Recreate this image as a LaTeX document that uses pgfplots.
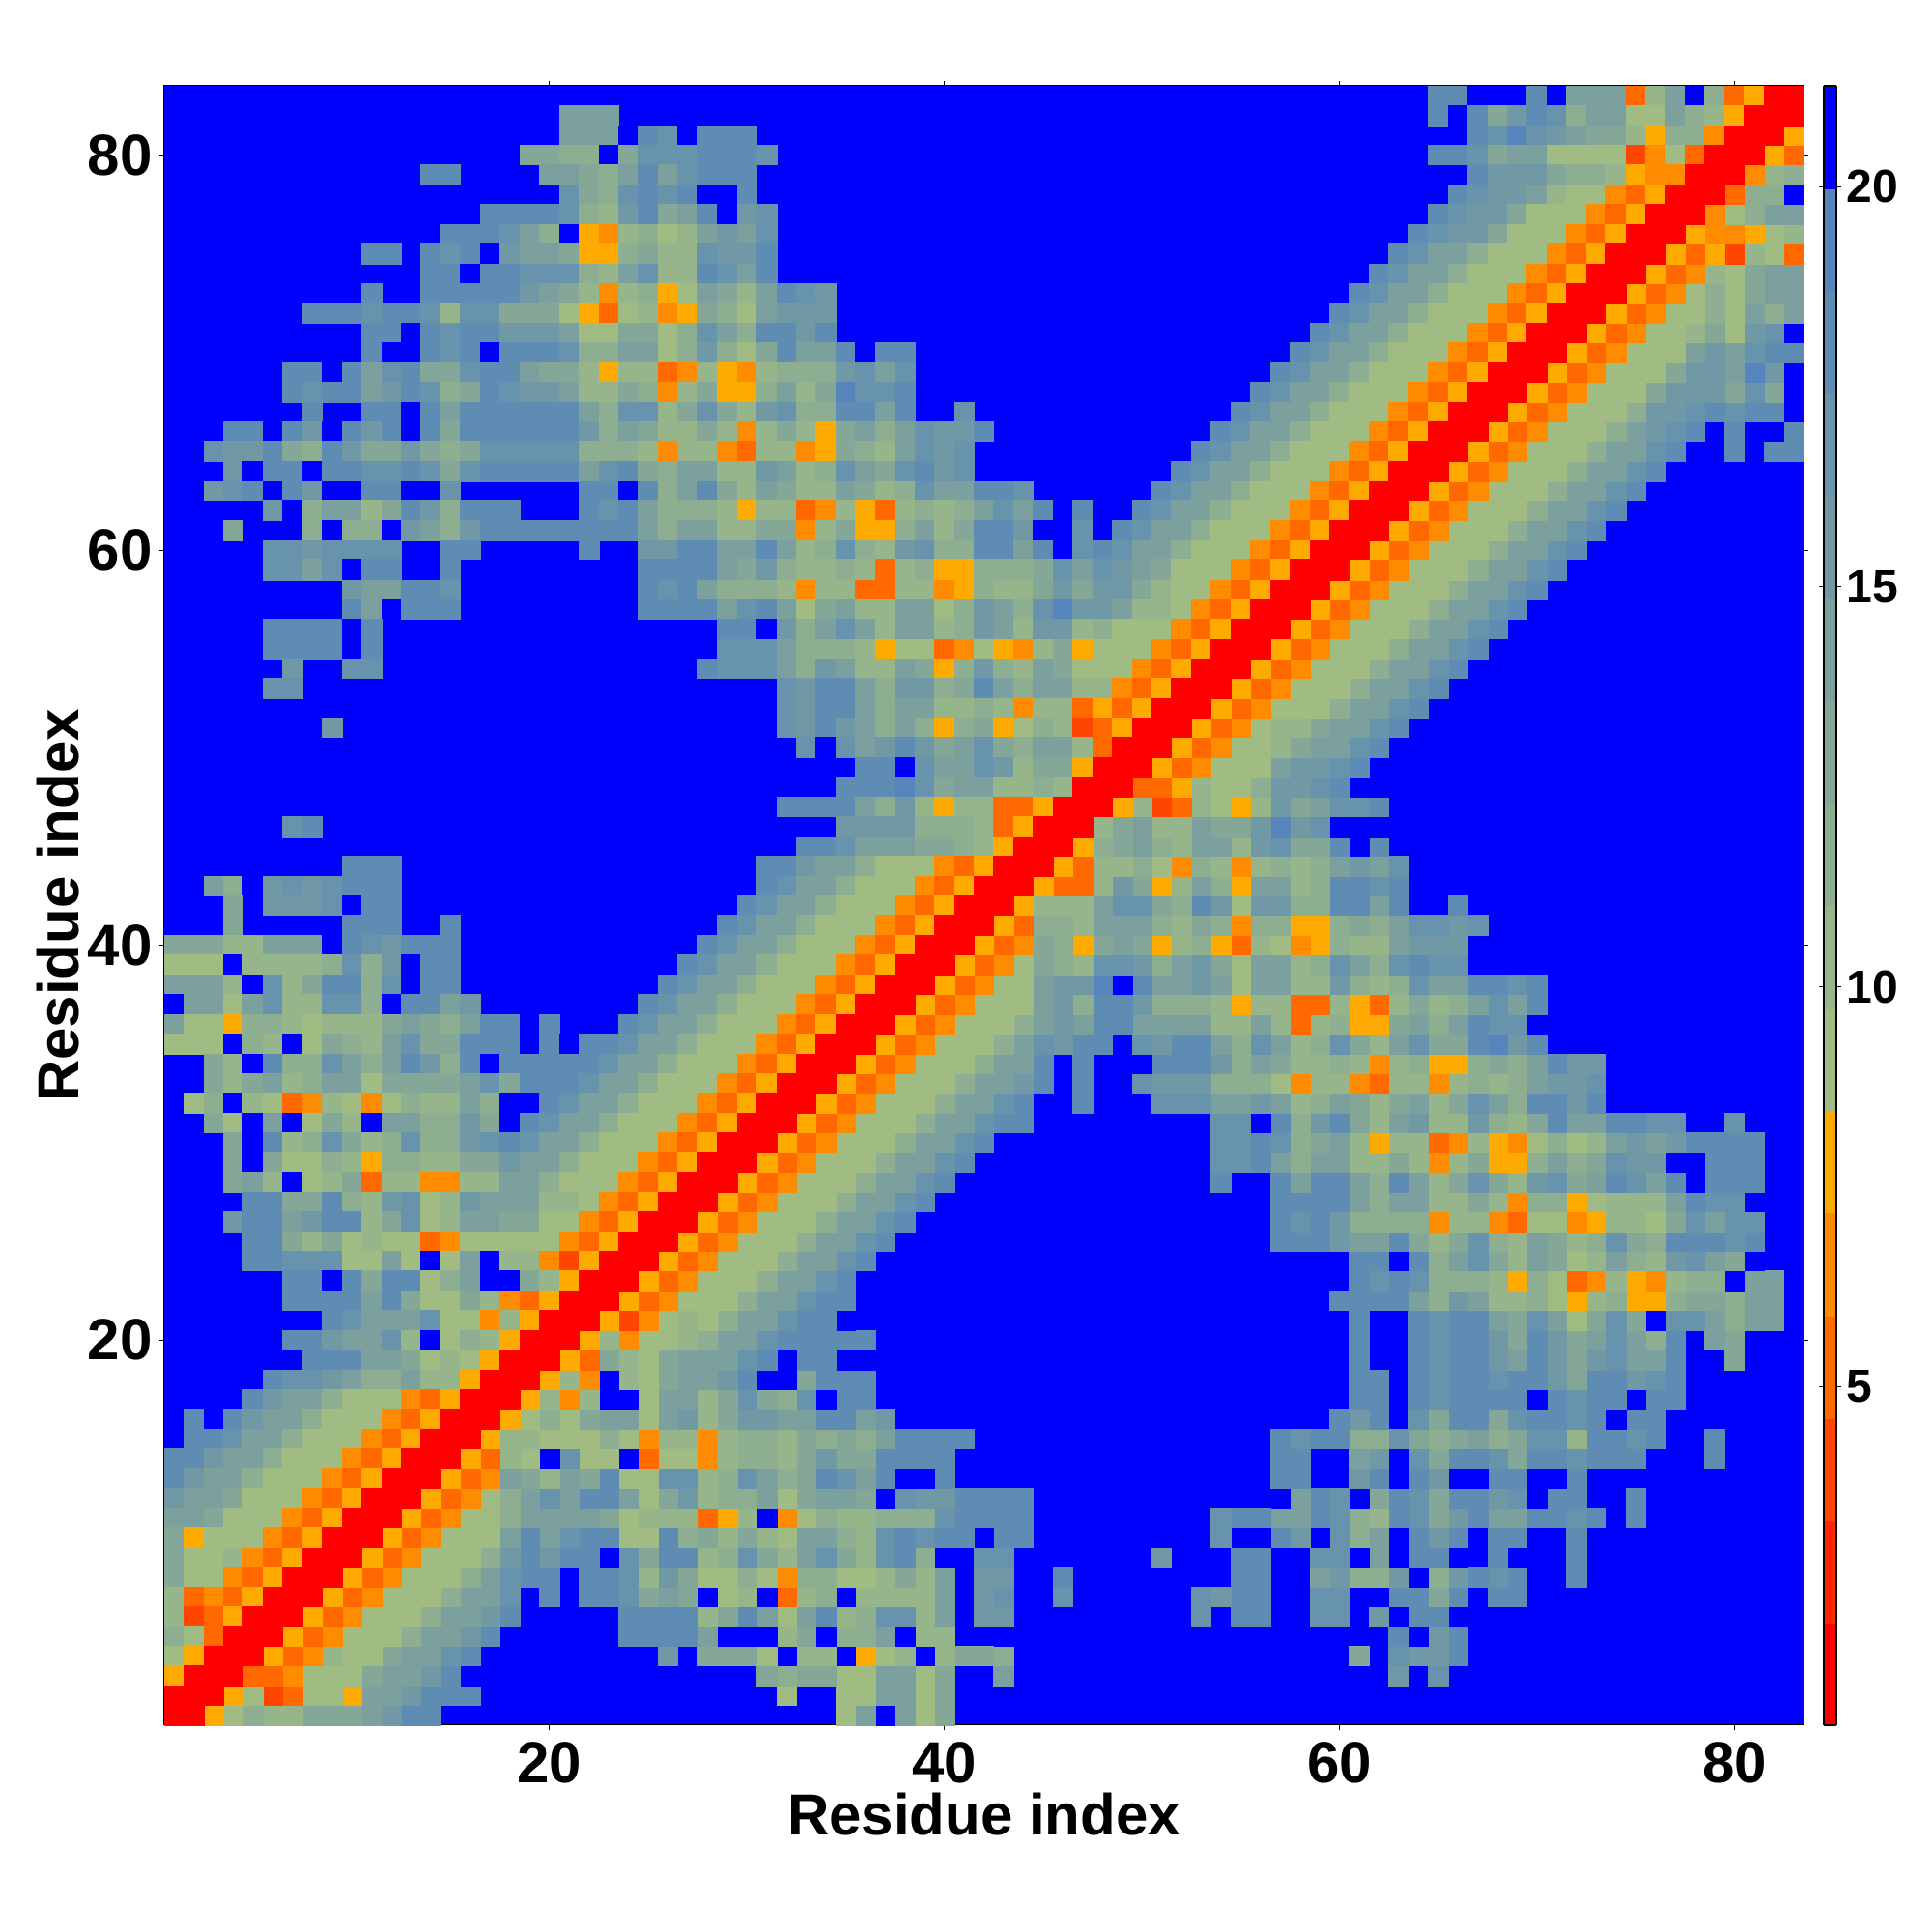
\documentclass[border=0pt]{standalone}
\usepackage{fontspec}
\setmainfont{Liberation Sans}
\usepackage{pgfplots}
\pgfplotsset{compat=1.18}
\pgfplotsset{
 colormap={contact}{
  rgb255=(255,0,0) rgb255=(255,36,0) rgb255=(255,70,0) rgb255=(255,105,0)
  rgb255=(255,140,0) rgb255=(255,170,0) rgb255=(161,188,131) rgb255=(151,181,138)
  rgb255=(142,174,145) rgb255=(132,167,152) rgb255=(123,160,158) rgb255=(113,153,165)
  rgb255=(104,147,172) rgb255=(94,140,179) rgb255=(85,133,186) rgb255=(0,0,255)},
 cell/.style={scatter,only marks,mark=square*,mark size=2.5557pt,scatter src=explicit,
  mark options={line width=0.15pt},
  scatter/use mapped color={draw=mapped color,fill=mapped color},forget plot},
}
% the map is symmetric: one row of the upper left half is drawn with its mirror image
\newcommand\Row[3]{%
 \gdef\cells{}%
 \foreach \v [count=\c from #2] in {#3}{\xdef\cells{\cells (\c,#1) [\v] (#1,\c) [\v] }}%
 \edef\doit{\noexpand\addplot[cell] coordinates {\cells};}\doit
}
\begin{document}
\begin{tikzpicture}
\useasboundingbox (-42.5pt,-53.5pt) rectangle (457.5pt,446.5pt);
\begin{axis}[
 at={(0,0)},anchor=south west,scale only axis,width=424.25pt,height=424.25pt,
 xmin=0.5,xmax=83.5,ymin=0.5,ymax=83.5,
 xtick={20,40,60,80},ytick={20,40,60,80},
 tick align=outside,major tick length=1.25pt,tick style={line width=0.25pt,black},
 axis line style={line width=0.25pt,black},
 axis background/.style={fill=blue},
 /pgf/number format/assume math mode=true,
 tick label style={font=\bfseries\fontsize{15}{15}\selectfont,inner sep=0pt},
 xticklabel style={yshift=-3pt},yticklabel style={xshift=-1.7pt},
 xlabel={Residue index},ylabel={Residue index},
 every axis x label/.style={at={(axis description cs:0.5,0)},anchor=center,yshift=-23pt,
  font=\bfseries\fontsize{15}{15}\selectfont},
 every axis y label/.style={at={(axis description cs:0,0.5)},anchor=center,rotate=90,yshift=27.5pt,
  font=\bfseries\fontsize{15}{15}\selectfont},
 colormap name=contact,colormap access=piecewise constant,
 point meta min=0.77,point meta max=21.26,
 colorbar sampled,
 colorbar shift/.style={xshift=3.9pt},
 colorbar style={samples=17,width=3.25pt,ytick={5,10,15,20},
  tick align=outside,major tick length=1.25pt,
  yticklabel style={font=\bfseries\fontsize{12}{12}\selectfont,inner sep=0pt,xshift=1.2pt},
  /pgf/number format/assume math mode=true},
]
\Row{83}{65}{18,18,21,21,21,18,21,14,14,14,5,10,14,21,12,5,8,1,1}
\Row{82}{21}{14,14,14}
\Row{82}{65}{18,21,18,13,16,18,17,12,14,14,9,9,14,12,10,8,1,1}
\Row{81}{21}{14,14,14,21,18,17,21,18,18,18}
\Row{81}{67}{18,17,19,17,16,14,13,13,10,8,12,12,6,1,1}
\Row{80}{19}{13,13,12,12,21,13,17,17,17,18,18,18,17}
\Row{80}{65}{18,18,17,13,14,14,9,9,9,9,4,6,9,5,1,1}
\Row{79}{14}{18,18}
\Row{79}{20}{14,14,13,12,14,18,14,17,18,18,18}
\Row{79}{67}{18,16,16,16,13,12,12,10,8,6,6,1,1}
\Row{78}{21}{17,13,12,17,18,17,18,21,21,18}
\Row{78}{66}{18,17,16,16,14,10,9,9,6,5,8,1,1}
\Row{77}{17}{18,18,18,18,17,12,10,16,18,13,14,18,21,16,17}
\Row{77}{65}{18,17,16,16,13,9,9,9,6,5,8,1,1}
\Row{76}{15}{18,18,18,17,14,12,21,8,6,10,12,9,10,14,16,14,17}
\Row{76}{64}{18,17,16,16,13,9,9,9,6,5,8,1,1}
\Row{75}{11}{18,18}
\Row{75}{14}{18,17,18,21,16,14,14,13,8,8,12,13,10,10,17,16,16,18}
\Row{75}{63}{18,17,14,14,12,9,9,9,6,5,8,1,1}
\Row{74}{14}{18,18,21,18,18,17,17,17,12,10,14,17,10,10,18,17,14,18}
\Row{74}{62}{18,17,14,14,12,9,9,9,6,5,8,1,1}
\Row{73}{11}{18}
\Row{73}{14}{18,18,18,18,18,16,14,13,10,6,10,12,8,9,14,13,10,14,18,17,16}
\Row{73}{61}{18,17,14,14,12,9,9,9,6,5,8,1,1}
\Row{72}{8}{18,18,18,17,18,18,17,10,17,17,13,13,13,9,8,5,9,10,6,8,13,12,9,14,16,16,16}
\Row{72}{60}{18,17,14,14,12,9,9,9,6,5,8,1,1}
\Row{71}{11}{18,18,21,18,17,18,18,16,16,16,14,9,9,13,13,9,12,17,14,12,18,18,16,18}
\Row{71}{59}{18,17,14,14,12,9,9,9,6,5,8,1,1}
\Row{70}{11}{18,21,21,18,17,18,21,18,18,18,17,12,12,14,14,9,12,16,12,9,13,18,14,14,18,21,18,18}
\Row{70}{58}{18,17,14,14,12,9,9,9,6,5,8,1,1}
\Row{69}{7}{18,18,21,18,14,17,18,13,13,17,18,18,14,13,13,10,8,10,10,5,6,10,8,6,10,12,12,12,16,17,14,17}
\Row{69}{57}{18,17,14,14,12,9,9,9,6,5,8,1,1}
\Row{68}{7}{18,17,18,18,14,16,18,17,12,13,18,17,16,16,14,10,10,13,12,6,10,13,8,8,12,14,10,13,19,17,17,18}
\Row{68}{56}{18,17,14,14,12,9,9,9,6,5,8,1,1}
\Row{67}{8}{18}
\Row{67}{11}{18,18,21,18,14,18,18,18,18,18,18,14,12,17,17,10,13,17,13,10,16,17,12,12,18,18,14,18}
\Row{67}{41}{17}
\Row{67}{55}{18,17,14,14,12,9,9,9,6,5,8,1,1}
\Row{66}{4}{18,18,21,18,16,21,18,16,18,21,18,13,18,18,18,18,18,18,16,12,14,13,10,10,13,10,6,10,13,10,8,13,14,12,14,17,16,16,18}
\Row{66}{54}{18,17,14,14,12,9,9,9,6,5,8,1,1}
\Row{65}{3}{17,16,16,18,13,12,18,16,13,13,16,13,12,13,17,17,17,17,17,12,12,12,10,6,10,10,6,5,10,10,6,8,13,12,10,14,17,16,17}
\Row{65}{53}{18,17,14,14,12,9,9,9,6,5,8,1,1}
\Row{64}{4}{16,21,18,18,21,18,18,17,17,18,17,13,17,18,18,18,18,18,14,17,18,13,12,14,14,10,10,16,14,10,12,17,14,13,17,18,16,17}
\Row{64}{52}{18,17,14,14,12,9,9,9,6,5,8,1,1}
\Row{63}{3}{16,17,18,21,18,16,21,21,18,18,21,21,17}
\Row{63}{22}{18,18,21,18,12,14,18,13,10,14,13,10,10,14,13,10,12,17,14,14,18,18,17}
\Row{63}{51}{18,17,14,14,12,9,9,9,6,5,8,1,1}
\Row{62}{6}{16,21,12,14,14,10,13,18,16,12,18,18,18}
\Row{62}{22}{18,17,18,14,12,12,12,10,8,10,10,5,6,10,8,5,10,12,10,12,14,17,14,18,21,18,21,21}
\Row{62}{50}{18,17,14,14,12,9,9,9,6,5,8,1,1}
\Row{61}{4}{13}
\Row{61}{8}{12,21,12,12,21,16,14,12,16,18,18,18,18,18,18,18,18,14,12,14,14,10,10,13,13,6,10,13,8,8,12,14,10,13,18,18,16,21,21,17,21}
\Row{61}{49}{18,17,14,14,12,9,9,9,6,5,8,1,1}
\Row{60}{6}{17,17,16,17,17,17,17}
\Row{60}{15}{18,18}
\Row{60}{22}{18}
\Row{60}{25}{16,16,18,18,14,14,18,14,10,12,17,12,10,16,17,12,12,18,18,14,18,21,17}
\Row{60}{48}{18,17,14,14,12,9,9,9,6,5,8,1,1}
\Row{59}{6}{17,17,14,17,21,18,18}
\Row{59}{15}{18}
\Row{59}{25}{18,18,18,18,14,13,16,12,10,10,12,10,5,10,12,8,8,12,12,12,13,17,14,17,16,14,13,9,9,9,6,5,8,1,1}
\Row{58}{10}{16,14,14,18,18,17}
\Row{58}{25}{18,17,18,14,12,12,12,10,6,10,10,5,5,10,10,6,8,12,10,10,13,16,13,16,16,13,10,9,9,6,5,8,1,1}
\Row{57}{10}{18,14,21,18,18,18}
\Row{57}{25}{18,18,18,18,14,17,18,14,9,13,14,10,10,14,14,9,12,16,14,12,17,19,16,16,14,10,10,9,6,5,8,1,1}
\Row{56}{6}{18,18,18,18,21,18}
\Row{56}{29}{18,18,21,16,12,14,17,14,10,14,14,10,12,16,14,10,16,16,10,12,9,9,9,6,5,8,1,1}
\Row{55}{6}{18,18,18,18,21,18}
\Row{55}{29}{17,17,17,14,12,12,12,10,8,9,9,5,6,9,8,6,10,13,8,9,9,9,6,5,8,1,1}
\Row{54}{7}{16}
\Row{54}{10}{17,17}
\Row{54}{28}{18,17,17,17,14,12,16,14,10,10,14,13,8,12,16,12,10,14,13,9,9,9,6,5,8,1,1}
\Row{53}{6}{17,17}
\Row{53}{32}{17,16,18,18,14,12,16,16,12,13,18,14,12,14,14,10,10,6,5,8,1,1}
\Row{52}{32}{17,16,18,18,14,12,14,14,10,10,12,10,6,10,10,5,8,5,8,1,1}
\Row{51}{9}{16}
\Row{51}{32}{17,16,18,16,14,12,14,12,8,12,13,8,9,12,10,4,5,8,1,1}
\Row{50}{33}{17,21,17,14,16,18,16,13,14,17,13,12,14,14,10,5,1,1}
\Row{49}{36}{18,18,21,17,14,14,17,16,10,13,13,8,1,1}
\Row{48}{35}{18,18,18,19,17,13,14,14,10,10,12,10,1,1}
\Row{47}{32}{18,18,18,18,14,12,16,10,8,10,10,5,5,8,1,1}
\Row{46}{7}{17,18}
\Row{46}{35}{16,16,16,16,12,12,12,10,5,8,1,1}
\Row{45}{33}{18,18,17,14,14,14,13,13,12,10,8,1,1}
\Row{44}{10}{18,18,18}
\Row{44}{31}{18,18,16,14,14,12,9,9,9,6,5,8,1,1}
\Row{43}{3}{14,12,21,16,17,16,17,18,18,18}
\Row{43}{31}{18,17,14,14,12,9,9,9,6,5,8,1,1}
\Row{42}{4}{13}
\Row{42}{6}{16,16,16,17,21,18,18}
\Row{42}{30}{18,17,14,14,12,9,9,9,6,5,8,1,1}
\Row{41}{4}{13}
\Row{41}{10}{18,18,18}
\Row{41}{15}{18}
\Row{41}{29}{18,17,14,14,12,9,9,9,6,5,8,1,1}
\Row{40}{1}{13,13,13,10,10,14,14,14,21,18,17,16,18,18,18}
\Row{40}{28}{18,17,14,14,12,9,9,9,6,5,8,1,1}
\Row{39}{1}{9,9,9,21,10,10,10,10,12,17,12,16,21,18,18}
\Row{39}{27}{18,17,14,14,12,9,9,9,6,5,8,1,1}
\Row{38}{1}{14,14,14,10,21,17,10,13,18,18,12,17,21,18,18}
\Row{38}{26}{18,17,14,14,12,9,9,9,6,5,8,1,1}
\Row{37}{1}{21,14,14,9,14,17,10,10,17,17,12,21,18,18,14,16}
\Row{37}{25}{18,17,14,14,12,9,9,9,6,5,8,1,1}
\Row{36}{1}{14,9,9,8,12,12,10,9,10,10,10,13,14,13,12,14,18,18,21,18}
\Row{36}{24}{18,17,14,14,12,9,9,9,6,5,8,1,1}
\Row{35}{1}{9,9,9,21,12,10,21,9,13,12,10,14,17,13,13,18,18,18,21,18,21,18}
\Row{35}{23}{18,17,14,14,12,9,9,9,6,5,8,1,1}
\Row{34}{3}{13,10,21,18,12,12,17,14,12,14,18,16,12,18,21,18,18,18,18}
\Row{34}{22}{18,17,14,14,12,9,9,9,6,5,8,1,1}
\Row{33}{3}{13,10,13,14,10,12,14,14,9,13,13,13,13,14,17,13,18,18}
\Row{33}{21}{18,17,14,14,12,9,9,9,6,5,8,1,1}
\Row{32}{2}{9,12,21,10,9,5,6,10,9,6,9,12,10,10,14,12,21,21}
\Row{32}{20}{18,17,14,14,12,9,9,9,6,5,8,1,1}
\Row{31}{3}{13,9,21,14,21,9,13,10,21,14,14,12,12,16,13,21}
\Row{31}{19}{18,17,14,14,12,9,9,9,6,5,8,1,1}
\Row{30}{4}{13,21,18,10,12,17,13,10,12,17,12,12,16,17}
\Row{30}{18}{18,17,14,14,12,9,9,9,6,5,8,1,1}
\Row{29}{4}{13,21,13,9,9,12,10,8,12,12,10,10,13,13,16,14,14,12,9,9,9,6,5,8,1,1}
\Row{28}{4}{13,14,10,21,9,10,13,5,10,10,6,6,10,10,14,14,12,9,9,9,6,5,8,1,1}
\Row{27}{5}{18,18,13,13,18,12,10,16,17,9,10,16,14,14,14,10,10,9,6,5,8,1,1}
\Row{26}{4}{16,18,18,14,16,18,18,10,13,17,9,10,14,14,13,13,9,9,6,5,8,1,1}
\Row{25}{5}{18,18,13,10,13,9,10,9,9,5,6,9,9,9,9,9,6,5,8,1,1}
\Row{24}{5}{18,18,17,17,17,9,9,14,9,21,9,14,21,10,10,6,4,8,1,1}
\Row{23}{7}{18,18,21,18,13,18,18,9,12,14,21,21,13,10,8,1,1}
\Row{22}{7}{18,18,18,18,14,18,13,9,9,13,10,6,5,8,1,1}
\Row{21}{9}{18,17,14,14,14,17,9,9,6,10,8,1,1}
\Row{20}{7}{18,18,16,14,14,17,10,21,9,12,10,8,1,1}
\Row{19}{8}{18,18,18,14,14,13,9,10,9,8,1,1}
\Row{18}{6}{18,17,17,16,14,12,12,14,10,10,8,1,1}
\Row{17}{5}{18,16,14,14,12,9,9,9,6,5,8,1,1}
\Row{16}{2}{18,21,18,16,14,14,12,9,9,9,6,5,8,1,1}
\Row{15}{2}{18,18,17,14,14,12,9,9,9,6,5,8,1,1}
\Row{14}{1}{18,18,16,14,14,12,9,9,9,6,5,8,1,1}
\Row{13}{1}{18,16,14,14,12,9,9,9,6,5,8,1,1}
\Row{12}{1}{16,14,14,13,9,9,9,6,5,8,1,1}
\Row{11}{1}{14,14,13,9,9,9,6,5,8,1,1}
\Row{10}{1}{13,8,9,9,9,6,5,8,1,1}
\Row{9}{1}{13,9,9,10,6,5,8,1,1}
\Row{8}{1}{13,9,9,6,5,8,1,1}
\Row{7}{1}{10,5,6,5,8,1,1}
\Row{6}{1}{10,4,5,8,1,1}
\Row{5}{1}{12,9,5,1,1}
\Row{4}{1}{9,8,1,1}
\Row{3}{1}{8,1,1}
\Row{2}{1}{1,1}
\Row{1}{1}{1}
\end{axis}
\end{tikzpicture}
\end{document}
